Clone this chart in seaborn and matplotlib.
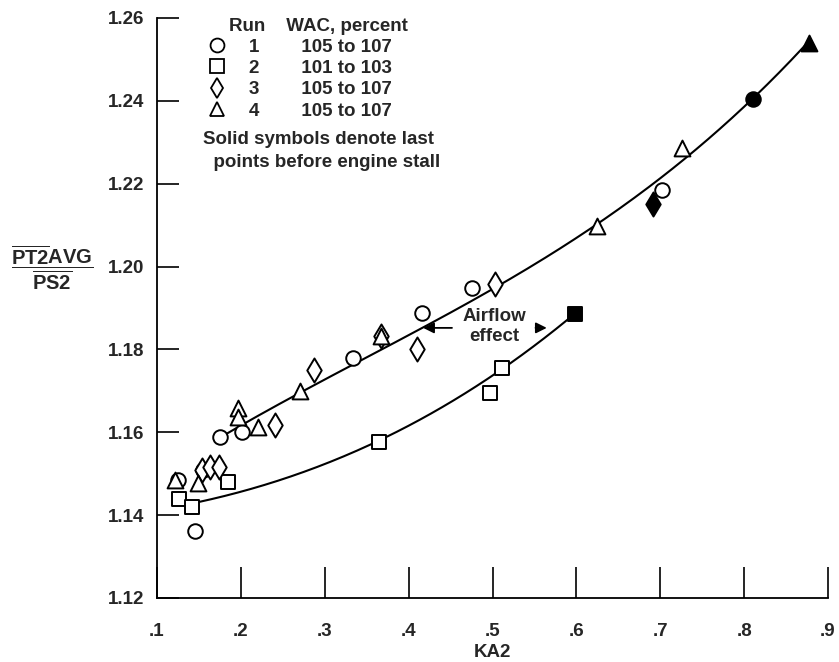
import numpy as np
import pandas as pd
import matplotlib
matplotlib.use("Agg")
import matplotlib.pyplot as plt
import seaborn as sns
from matplotlib.lines import Line2D

# ---- data ----
run1_x = [0.145, 0.175, 0.201, 0.155, 0.125, 0.334, 0.416, 0.475, 0.702]
run1_y = [1.1362, 1.1589, 1.1600, 1.1510, 1.1485, 1.1780, 1.1888, 1.1948, 1.2185]
run1_stall = (0.810, 1.2405)

run2_x = [0.126, 0.142, 0.185, 0.365, 0.497, 0.511]
run2_y = [1.1439, 1.1420, 1.1480, 1.1577, 1.1695, 1.1755]
run2_stall = (0.598, 1.1885)

run3_x = [0.154, 0.163, 0.174, 0.241, 0.287, 0.367, 0.410, 0.503]
run3_y = [1.1510, 1.1516, 1.1516, 1.1618, 1.1750, 1.1832, 1.1800, 1.1958]
run3_stall = (0.691, 1.2150)

run4_x = [0.122, 0.149, 0.197, 0.197, 0.220, 0.270, 0.367, 0.624, 0.726]
run4_y = [1.1485, 1.1478, 1.1659, 1.1637, 1.1613, 1.1700, 1.1832, 1.2098, 1.2286]
run4_stall = (0.877, 1.2540)

runs = ["1", "2", "3", "4"]
wac = ["105 to 107", "101 to 103", "105 to 107", "105 to 107"]

# faired curves
upper_x = [0.175, 0.274, 0.350, 0.420, 0.500, 0.568, 0.604, 0.700, 0.735, 0.803, 0.877]
upper_y = [1.1588, 1.1697, 1.1780, 1.1860, 1.1940, 1.2036, 1.2076, 1.2200, 1.2270, 1.2402, 1.2540]
lower_x = [0.149, 0.199, 0.365, 0.511, 0.598]
lower_y = [1.1429, 1.1460, 1.1577, 1.1755, 1.1885]

xticks = [0.1, 0.2, 0.3, 0.4, 0.5, 0.6, 0.7, 0.8, 0.9]
xticklabels = [".1", ".2", ".3", ".4", ".5", ".6", ".7", ".8", ".9"]
yticks = [1.12, 1.14, 1.16, 1.18, 1.20, 1.22, 1.24, 1.26]

frames = []
for r, xs, ys, st in zip(runs, [run1_x, run2_x, run3_x, run4_x],
                         [run1_y, run2_y, run3_y, run4_y],
                         [run1_stall, run2_stall, run3_stall, run4_stall]):
    d = pd.DataFrame({"KA2": xs, "ratio": ys, "run": r, "stall": False})
    s = pd.DataFrame({"KA2": [st[0]], "ratio": [st[1]], "run": r, "stall": True})
    frames += [d, s]
df = pd.concat(frames, ignore_index=True)

markers = {"1": "o", "2": "s", "3": "d", "4": "^"}
sizes = {"1": 110, "2": 110, "3": 150, "4": 130}

sns.set_style("white")
plt.rcParams["font.family"] = ["Liberation Sans", "DejaVu Sans"]
plt.rcParams["font.weight"] = "bold"
plt.rcParams["mathtext.fontset"] = "custom"
plt.rcParams["mathtext.rm"] = "Liberation Sans:bold"
plt.rcParams["mathtext.it"] = "Liberation Sans:bold"
plt.rcParams["mathtext.bf"] = "Liberation Sans:bold"
FS = 13.5

fig = plt.figure(figsize=(8.39, 6.62), dpi=100)
ax = fig.add_axes([157 / 839, 64 / 662, 671 / 839, 580 / 662])

# faired curves
for cx, cy in [(upper_x, upper_y), (lower_x, lower_y)]:
    coef = np.polyfit(cx, cy, 3)
    xx = np.linspace(min(cx), max(cx), 200)
    sns.lineplot(x=xx, y=np.polyval(coef, xx), color="black", lw=1.5, ax=ax)

for r in runs:
    sub = df[df.run == r]
    sns.scatterplot(data=sub[~sub.stall], x="KA2", y="ratio", marker=markers[r],
                    s=sizes[r], facecolor="white", edgecolor="black",
                    linewidth=1.4, ax=ax, zorder=3, clip_on=False)
    sns.scatterplot(data=sub[sub.stall], x="KA2", y="ratio", marker=markers[r],
                    s=sizes[r], color="black", edgecolor="black",
                    linewidth=1.4, ax=ax, zorder=3, clip_on=False)

ax.set_xlim(0.1, 0.9)
ax.set_ylim(1.12, 1.26)
ax.set_xticks(xticks)
ax.set_xticklabels(xticklabels)
ax.set_yticks(yticks)
ax.set_yticklabels([f"{v:.2f}" for v in yticks])
ax.tick_params(axis="x", bottom=True, direction="in", length=22, width=1.2,
               pad=18, labelsize=FS, color="black")
ax.tick_params(axis="y", left=True, direction="in", length=16, width=1.2,
               pad=9, labelsize=FS, color="black")
sns.despine(ax=ax)
for sp in ["left", "bottom"]:
    ax.spines[sp].set_linewidth(1.3)
    ax.spines[sp].set_color("black")

ax.set_xlabel("KA2", fontsize=FS, labelpad=3, fontweight="bold")
ax.set_ylabel("")
fig.text(52 / 839, 1 - 268 / 662,
         r"$\dfrac{\overline{\mathrm{PT2}}\mathrm{AVG}}{\overline{\mathrm{PS2}}}$",
         fontsize=FS + 1, ha="center", va="center")

# legend
handles = [Line2D([], [], marker=markers[r], color="black", ls="none",
                  markerfacecolor="white", markersize=10, markeredgewidth=1.3)
           for r in runs]
labels = [f"{r}        {w}" for r, w in zip(runs, wac)]
leg = ax.legend(handles, labels, loc="upper left", bbox_to_anchor=(0.062, 1.017),
                frameon=False, fontsize=FS, title="    Run    WAC, percent",
                title_fontsize=FS, handlelength=1.0, handletextpad=1.2,
                labelspacing=0.22, borderpad=0, alignment="left")
leg.get_title().set_fontweight("bold")
ax.text(0.068, 0.805, "Solid symbols denote last\n  points before engine stall",
        transform=ax.transAxes, fontsize=FS, va="top", ha="left", linespacing=1.45)

# airflow effect annotation
ax.text(0.502, 1.1855, "Airflow\neffect", fontsize=FS, ha="center", va="center",
        linespacing=1.2)
arrow = dict(arrowstyle="-|>", color="black", lw=1.3, mutation_scale=16)
ax.annotate("", xy=(0.414, 1.1852), xytext=(0.455, 1.1852), arrowprops=arrow)
ax.annotate("", xy=(0.568, 1.1852), xytext=(0.548, 1.1852), arrowprops=arrow)

fig.savefig("out.png", dpi=100)
